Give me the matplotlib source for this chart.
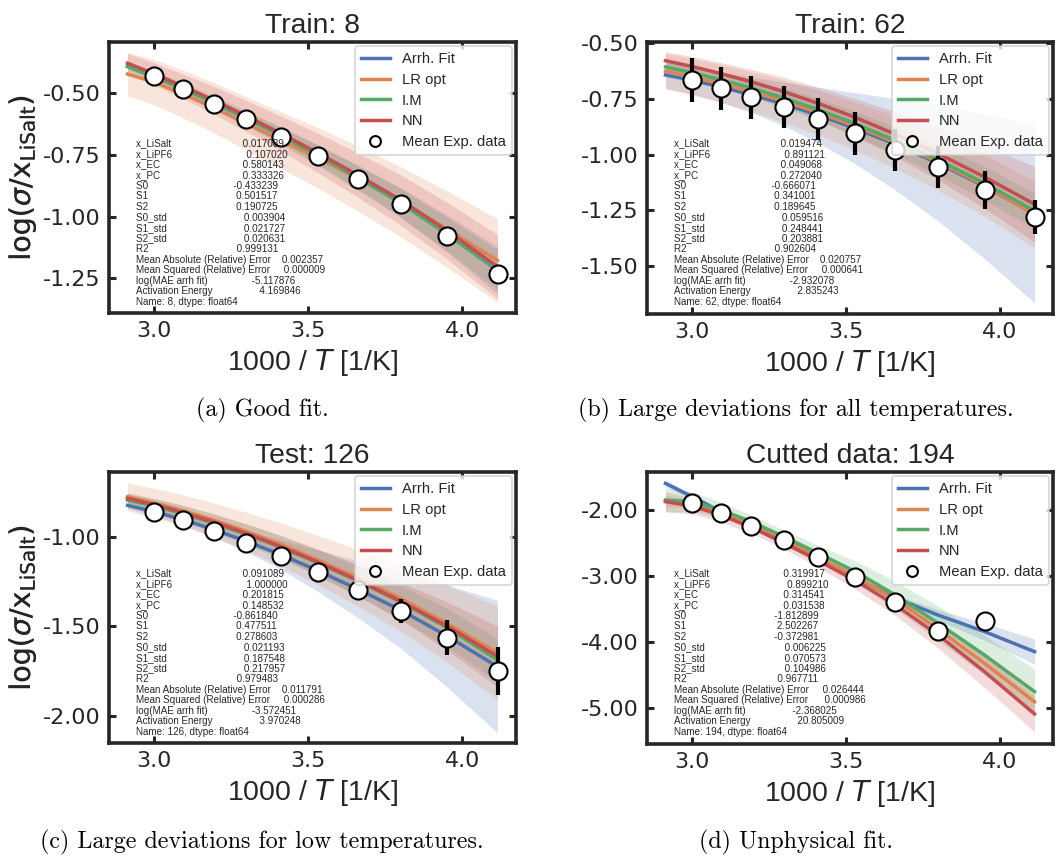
import numpy as np
import pandas as pd
import matplotlib
matplotlib.use("Agg")
import matplotlib.pyplot as plt
import matplotlib.patheffects as pe
from matplotlib.ticker import MultipleLocator, FormatStrFormatter

# ---------------- data ----------------
# 1000/T for the measured temperatures (60 ... -30 C) and model-line grid (70 ... -30 C)
temp_x = [3.0017, 3.0945, 3.1934, 3.2987, 3.4112, 3.5317, 3.6610, 3.8003, 3.9510, 4.1135]
line_x = [2.9142, 3.0017, 3.0945, 3.1934, 3.2987, 3.4112, 3.5317, 3.6610, 3.8003, 3.9510, 4.1135]

model_labels = ["Arrh. Fit", "LR opt", "I.M", "NN"]
exp_label = "Mean Exp. data"
stat_names = ["x_LiSalt", "x_LiPF6", "x_EC", "x_PC", "S0", "S1", "S2", "S0_std", "S1_std",
              "S2_std", "R2", "Mean Absolute (Relative) Error", "Mean Squared (Relative) Error",
              "log(MAE arrh fit)", "Activation Energy"]
titles = ["Train: 8", "Train: 62", "Test: 126", "Cutted data: 194"]
captions = ["(a) Good fit.", "(b) Large deviations for all temperatures.",
            "(c) Large deviations for low temperatures.", "(d) Unphysical fit."]
series_names = [8, 62, 126, 194]

# panel (a) Train: 8
a_exp = [-0.430, -0.484, -0.542, -0.605, -0.676, -0.754, -0.847, -0.949, -1.077, -1.232]
a_err = [0.0, 0.0, 0.0, 0.0, 0.0, 0.0, 0.0, 0.0, 0.0, 0.0]
a_arrh = [-0.390, -0.432, -0.481, -0.537, -0.600, -0.670, -0.749, -0.840, -0.943, -1.070, -1.218]
a_lr = [-0.422, -0.455, -0.503, -0.558, -0.622, -0.690, -0.762, -0.846, -0.940, -1.052, -1.178]
a_im = [-0.392, -0.433, -0.482, -0.538, -0.601, -0.672, -0.751, -0.843, -0.945, -1.072, -1.215]
a_nn = [-0.378, -0.422, -0.472, -0.528, -0.592, -0.663, -0.742, -0.832, -0.933, -1.058, -1.203]
a_arrh_bw = [0.010, 0.012, 0.015, 0.019, 0.024, 0.030, 0.038, 0.048, 0.060, 0.075, 0.095]
a_lr_bw = [0.088, 0.092, 0.097, 0.102, 0.108, 0.115, 0.123, 0.132, 0.142, 0.155, 0.170]
a_im_bw = [0.020, 0.022, 0.025, 0.028, 0.032, 0.037, 0.043, 0.050, 0.058, 0.068, 0.080]
a_nn_bw = [0.040, 0.045, 0.050, 0.056, 0.063, 0.071, 0.080, 0.090, 0.102, 0.115, 0.130]
a_stats = [0.017089, 0.107020, 0.580143, 0.333326, -0.433239, 0.501517, 0.190725, 0.003904,
           0.021727, 0.020631, 0.999131, 0.002357, 0.000009, -5.117876, 4.169846]
a_ylim = (-1.391, -0.292)

# panel (b) Train: 62
b_exp = [-0.665, -0.702, -0.743, -0.784, -0.840, -0.904, -0.979, -1.057, -1.159, -1.281]
b_err = [0.100, 0.097, 0.097, 0.094, 0.095, 0.097, 0.093, 0.094, 0.085, 0.077]
b_arrh = [-0.642, -0.666, -0.696, -0.731, -0.772, -0.822, -0.882, -0.953, -1.038, -1.142, -1.265]
b_lr = [-0.625, -0.650, -0.681, -0.717, -0.760, -0.811, -0.872, -0.945, -1.032, -1.138, -1.268]
b_im = [-0.606, -0.632, -0.664, -0.701, -0.745, -0.798, -0.861, -0.936, -1.023, -1.128, -1.252]
b_nn = [-0.578, -0.604, -0.636, -0.673, -0.717, -0.770, -0.833, -0.908, -0.995, -1.100, -1.222]
b_arrh_bw = [0.060, 0.062, 0.068, 0.080, 0.098, 0.125, 0.160, 0.205, 0.260, 0.325, 0.400]
b_lr_bw = [0.080, 0.082, 0.085, 0.089, 0.094, 0.100, 0.108, 0.117, 0.127, 0.138, 0.150]
b_im_bw = [0.030, 0.033, 0.036, 0.040, 0.044, 0.049, 0.055, 0.061, 0.068, 0.075, 0.080]
b_nn_bw = [0.040, 0.045, 0.050, 0.056, 0.064, 0.073, 0.085, 0.100, 0.118, 0.140, 0.170]
b_stats = [0.019474, 0.891121, 0.049068, 0.272040, -0.666071, 0.341001, 0.189645, 0.059516,
           0.248441, 0.203881, 0.902604, 0.020757, 0.000641, -2.932078, 2.835243]
b_ylim = (-1.715, -0.494)

# panel (c) Test: 126
c_exp = [-0.861, -0.907, -0.967, -1.033, -1.106, -1.195, -1.299, -1.414, -1.563, -1.747]
c_err = [0.010, 0.010, 0.010, 0.012, 0.015, 0.018, 0.025, 0.067, 0.098, 0.134]
c_arrh = [-0.825, -0.861, -0.905, -0.960, -1.025, -1.100, -1.190, -1.293, -1.410, -1.555, -1.725]
c_lr = [-0.777, -0.812, -0.855, -0.907, -0.970, -1.043, -1.130, -1.230, -1.345, -1.485, -1.648]
c_im = [-0.796, -0.830, -0.872, -0.924, -0.986, -1.059, -1.146, -1.247, -1.365, -1.508, -1.688]
c_nn = [-0.786, -0.822, -0.865, -0.918, -0.981, -1.055, -1.142, -1.243, -1.360, -1.500, -1.668]
c_arrh_bw = [0.020, 0.023, 0.029, 0.041, 0.058, 0.083, 0.116, 0.159, 0.214, 0.285, 0.370]
c_lr_bw = [0.078, 0.082, 0.088, 0.096, 0.106, 0.120, 0.137, 0.158, 0.183, 0.215, 0.260]
c_im_bw = [0.040, 0.043, 0.047, 0.052, 0.058, 0.065, 0.073, 0.083, 0.095, 0.108, 0.120]
c_nn_bw = [0.030, 0.034, 0.039, 0.045, 0.053, 0.062, 0.073, 0.087, 0.105, 0.135, 0.170]
c_stats = [0.091089, 1.000000, 0.201815, 0.148532, -0.861840, 0.477511, 0.278603, 0.021193,
           0.187548, 0.217957, 0.979483, 0.011791, 0.000286, -3.572451, 3.970248]
c_ylim = (-2.151, -0.639)

# panel (d) Cutted data: 194 (no measurement at the lowest temperature)
d_exp = [-1.899, -2.050, -2.242, -2.454, -2.706, -3.009, -3.387, -3.836, -3.674, np.nan]
d_err = [0.0, 0.0, 0.0, 0.0, 0.0, 0.0, 0.0, 0.0, 0.0, 0.0]
d_arrh = [-1.597, -1.800, -2.025, -2.252, -2.500, -2.755, -3.030, -3.330, -3.590, -3.840, -4.143]
d_lr = [-1.864, -1.909, -2.040, -2.217, -2.454, -2.716, -3.009, -3.351, -3.805, -4.320, -4.900]
d_im = [-1.849, -1.874, -2.000, -2.177, -2.403, -2.656, -2.933, -3.286, -3.715, -4.194, -4.748]
d_nn = [-1.874, -1.940, -2.076, -2.262, -2.494, -2.767, -3.070, -3.437, -3.891, -4.446, -5.086]
d_arrh_bw = [0.050, 0.040, 0.030, 0.025, 0.020, 0.020, 0.030, 0.050, 0.080, 0.130, 0.190]
d_lr_bw = [0.080, 0.070, 0.060, 0.060, 0.060, 0.070, 0.080, 0.100, 0.120, 0.150, 0.180]
d_im_bw = [0.180, 0.150, 0.120, 0.100, 0.100, 0.120, 0.160, 0.210, 0.260, 0.300, 0.340]
d_nn_bw = [0.150, 0.120, 0.100, 0.090, 0.090, 0.100, 0.130, 0.160, 0.200, 0.240, 0.270]
d_stats = [0.319917, 0.899210, 0.314541, 0.031538, -1.812899, 2.502267, -0.372981, 0.006225,
           0.070573, 0.104986, 0.967711, 0.026444, 0.000986, -2.368025, 20.805009]
d_ylim = (-5.54, -1.425)

# ---------------- style ----------------
plt.rcParams.update({
    "font.family": ["Liberation Sans", "DejaVu Sans"],
    "mathtext.fontset": "dejavusans",
    "axes.unicode_minus": False,
    "text.color": "#262626",
    "axes.labelcolor": "#262626",
    "xtick.color": "#262626",
    "ytick.color": "#262626",
})
colors = ["#4C72B0", "#DD8452", "#55A868", "#C44E52"]
dark = "#262626"

fig = plt.figure(figsize=(10.61, 8.56), dpi=100)
W, H = 1061.0, 856.0

# axes boxes in pixels: left, top, right, bottom
boxes = [(109, 42, 516, 313), (647, 42, 1053, 314), (109, 472, 516, 743), (647, 472, 1053, 744)]
caption_pos = [(262, 410), (796, 410), (262, 842), (796, 842)]
ystep = [0.25, 0.25, 0.5, 1.0]

panels = [
    (a_exp, a_err, [a_arrh, a_lr, a_im, a_nn], [a_arrh_bw, a_lr_bw, a_im_bw, a_nn_bw], a_stats, a_ylim),
    (b_exp, b_err, [b_arrh, b_lr, b_im, b_nn], [b_arrh_bw, b_lr_bw, b_im_bw, b_nn_bw], b_stats, b_ylim),
    (c_exp, c_err, [c_arrh, c_lr, c_im, c_nn], [c_arrh_bw, c_lr_bw, c_im_bw, c_nn_bw], c_stats, c_ylim),
    (d_exp, d_err, [d_arrh, d_lr, d_im, d_nn], [d_arrh_bw, d_lr_bw, d_im_bw, d_nn_bw], d_stats, d_ylim),
]

lx = np.array(line_x)
for i, (exp, err, lines, bws, stats, ylim) in enumerate(panels):
    l, t, r, b = boxes[i]
    ax = fig.add_axes([l / W, 1 - b / H, (r - l) / W, (b - t) / H])
    for y, bw, col in zip(lines, bws, colors):
        y = np.array(y); bw = np.array(bw)
        ax.fill_between(lx, y - bw, y + bw, color=col, alpha=0.2, linewidth=0)
    for y, col, lab in zip(lines, colors, model_labels):
        ax.plot(lx, y, color=col, lw=2.5, label=lab, zorder=3)
    ex = np.array(temp_x); ey = np.array(exp); ee = np.array(err)
    m = ee > 0
    if m.any():
        ax.errorbar(ex[m], ey[m], yerr=ee[m], fmt="none", ecolor="black", elinewidth=3.0,
                    capsize=0, zorder=4)
    ax.plot(ex, ey, "o", ms=13, mfc="white", mec="black", mew=1.5, label=exp_label,
            linestyle="none", zorder=5)

    ax.set_ylim(*ylim)
    ax.xaxis.set_major_locator(MultipleLocator(0.5))
    ax.xaxis.set_major_formatter(FormatStrFormatter("%.1f"))
    ax.yaxis.set_major_locator(MultipleLocator(ystep[i]))
    ax.yaxis.set_major_formatter(FormatStrFormatter("%.2f"))
    ax.tick_params(direction="in", top=True, right=True, length=5, width=2.2,
                   labelsize=16.0, pad=6, colors=dark, labelfontfamily="DejaVu Sans")
    for s in ax.spines.values():
        s.set_linewidth(2.6)
        s.set_color(dark)

    ax.set_title(titles[i], fontsize=20.3, pad=6.5)
    ax.set_xlabel(r"1000 / $T$ [1/K]", fontsize=20.5)
    yl = ax.set_ylabel(r"$\log(\sigma/\mathrm{x}_{\mathrm{LiSalt}})$", fontsize=20.5)
    yl.set_path_effects([pe.Normal()])
    ax.yaxis.set_label_coords((38 - l) / (r - l), 0.5)
    ax.xaxis.set_label_coords(0.5, -(347 - 313) / (b - t))

    leg = ax.legend(loc="upper right", fontsize=10.6, markerscale=0.6, frameon=True,
                    fancybox=True, framealpha=0.8, edgecolor="#cccccc",
                    borderaxespad=0.3, labelspacing=0.45, handlelength=2.0)
    leg.get_frame().set_linewidth(1.2)

    # pandas Series printout, one text line per row
    s = pd.Series(stats, index=stat_names, name=series_names[i])
    hpx = float(b - t)
    base0 = 104.5              # first baseline, px below the axes top
    pitch = 10.55              # px between baselines
    for k, row in enumerate(str(s).split("\n")):
        ax.text(0.066, 1 - (base0 + k * pitch) / hpx, row, transform=ax.transAxes,
                fontsize=7.1, va="baseline", ha="left", color=dark, zorder=6)

    fig.text(caption_pos[i][0] / W, 1 - caption_pos[i][1] / H, captions[i],
             fontfamily="cmr10", fontsize=17.3, ha="center", va="center", color="black")

fig.savefig("out.png", dpi=100, facecolor="white")
